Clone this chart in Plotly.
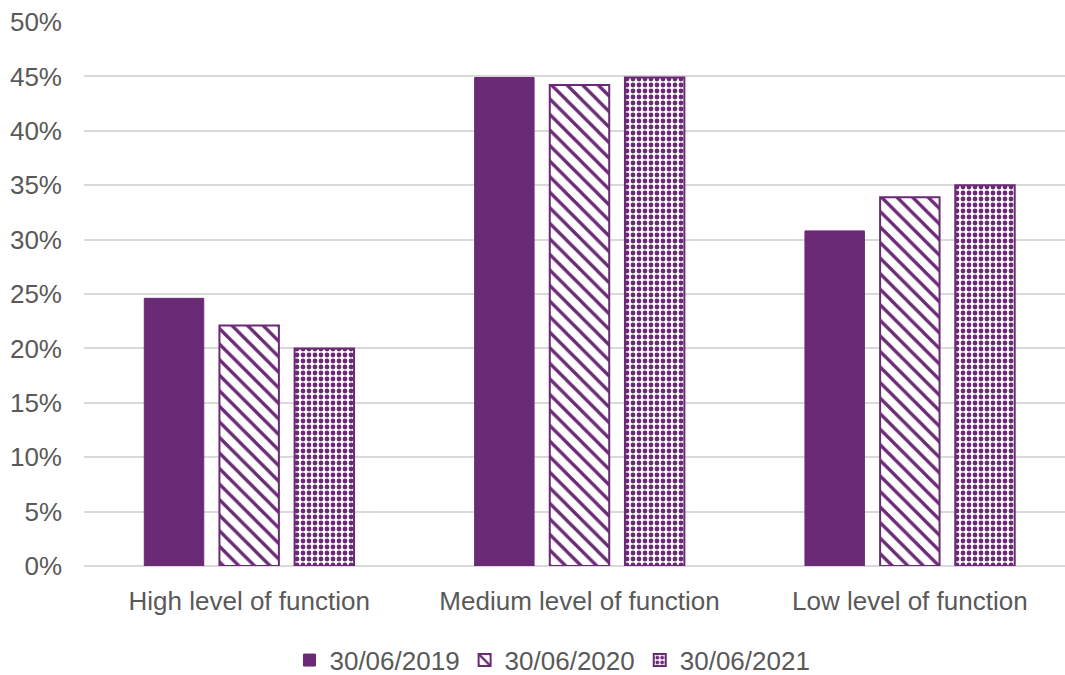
import plotly.graph_objects as go

categories = ["High level of function", "Medium level of function", "Low level of function"]
series_names = ["30/06/2019", "30/06/2020", "30/06/2021"]
v2019 = [0.246, 0.449, 0.308]
v2020 = [0.221, 0.442, 0.339]
v2021 = [0.200, 0.449, 0.350]

purple = "#6B2A75"
fig = go.Figure()
fig.add_trace(go.Bar(name=series_names[0], x=categories, y=v2019,
                     marker=dict(color=purple, line=dict(color=purple, width=1))))
fig.add_trace(go.Bar(name=series_names[1], x=categories, y=v2020,
                     marker=dict(color="white", line=dict(color=purple, width=2),
                                 pattern=dict(shape="\\", fgcolor=purple, bgcolor="white",
                                              size=11, solidity=0.3, fillmode="replace"))))
fig.add_trace(go.Bar(name=series_names[2], x=categories, y=v2021,
                     marker=dict(color="white", line=dict(color=purple, width=2),
                                 pattern=dict(shape=".", fgcolor=purple, bgcolor="white",
                                              size=6, solidity=0.5, fillmode="replace"))))

fig.update_layout(
    width=1078, height=675,
    paper_bgcolor="white", plot_bgcolor="white",
    margin=dict(l=84, r=3, t=22, b=109),
    barmode="group", bargap=0.3175, bargroupgap=0.209,
    font=dict(family="Liberation Sans, Arial, sans-serif", size=26, color="#595959"),
    yaxis=dict(range=[0, 0.5], dtick=0.05, tickformat=".0%", showgrid=True,
               gridcolor="#D9D9D9", gridwidth=2, zeroline=True, zerolinecolor="#D9D9D9",
               zerolinewidth=2, showline=False, ticks="", ticklabelstandoff=21,
               automargin=False, tickfont=dict(size=26, color="#595959")),
    xaxis=dict(showline=False, ticks="", ticklabelstandoff=17, automargin=False,
               tickfont=dict(size=26, color="#595959")),
    legend=dict(orientation="h", x=0.5125, xanchor="center", xref="container",
                y=0.022, yanchor="middle", yref="container",
                font=dict(size=26, color="#595959"), itemwidth=30, traceorder="normal"),
)
fig.write_html("out.html", config={"displayModeBar": False},
               post_script="document.body.style.margin='0';document.body.style.overflow='hidden';")
